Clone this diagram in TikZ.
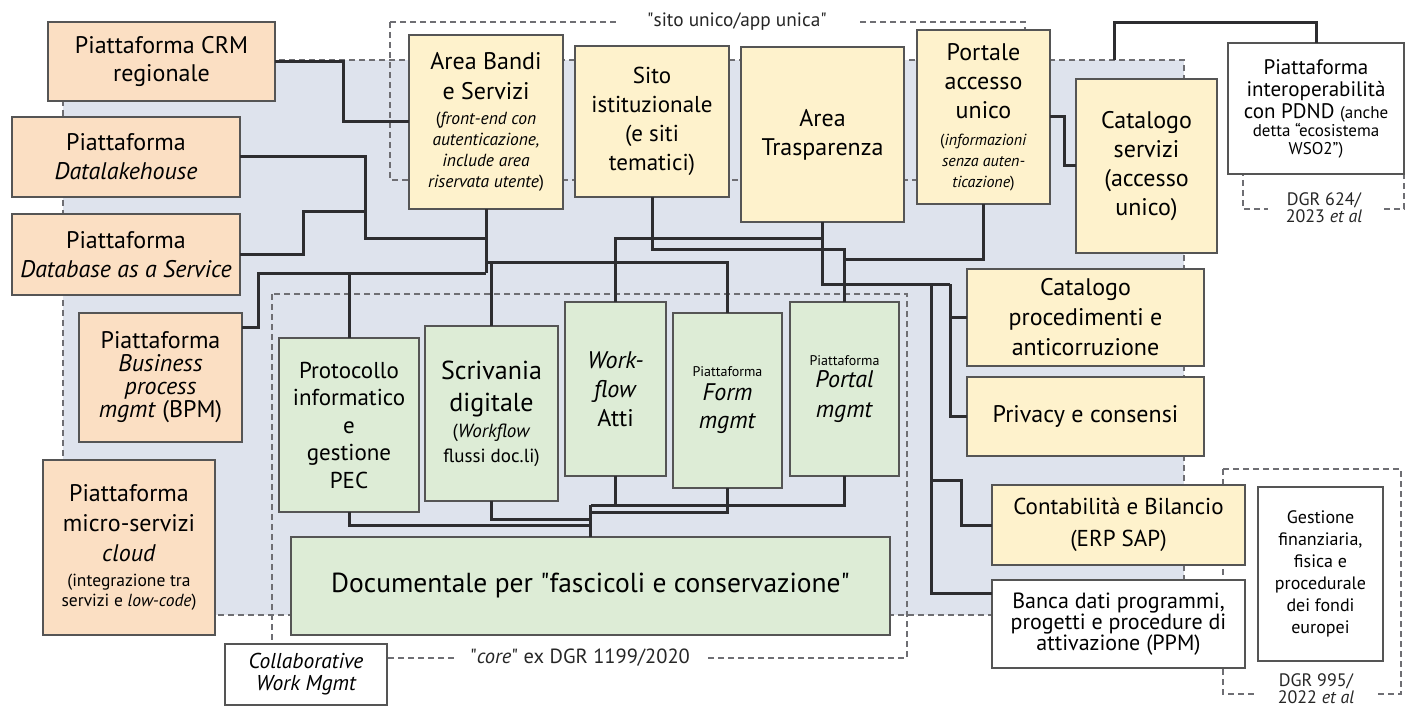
\documentclass[tikz,border=0pt]{standalone}
\usepackage{fontspec}
\setmainfont{PT Sans}
\usetikzlibrary{calc}
\definecolor{peachfill}{RGB}{251,223,195}
\definecolor{yelfill}{RGB}{254,242,204}
\definecolor{grnfill}{RGB}{221,236,214}
\definecolor{greybg}{RGB}{222,227,237}
\definecolor{boxline}{RGB}{85,85,85}
\definecolor{connc}{RGB}{45,45,48}
\definecolor{dashc}{RGB}{110,110,115}
\newcommand\Fmain{\fontsize{24}{29}\selectfont}
\newcommand\Fsmall{\fontsize{17.5}{21}\selectfont}
\newcommand\Fsmaller{\fontsize{16}{21}\selectfont}
\newcommand\Ftiny{\fontsize{14}{16}\selectfont}
\newcommand\mybox[7]{\node[#1, minimum width={(#5-#3)*1pt}, minimum height={(#6-#4)*1pt}] (#2) at ({(#3+#5)/2},{(#4+#6)/2}) {#7};}
\tikzset{
  box/.style={draw=boxline, line width=1.4pt, inner sep=0pt, outer sep=0pt, align=center, font=\Fmain},
  peach/.style={box, fill=peachfill},
  yel/.style={box, fill=yelfill},
  grn/.style={box, fill=grnfill},
  wht/.style={box, fill=white},
  conn/.style={draw=connc, line width=3pt},
  dashln/.style={draw=dashc, line width=1.4pt, dash pattern=on 6pt off 4pt},
  lab/.style={fill=white, inner ysep=1pt, align=center, text=black!85}
}
\begin{document}
\begin{tikzpicture}[x=1pt,y=-1pt]
\useasboundingbox (0,0) rectangle (1406,706);
% regions
\draw[dashln, fill=greybg] (63,60) rectangle (1184,615);
\draw[dashln] (390,22) rectangle (1025,180);
\draw[dashln] (272,294) rectangle (907,658);
\draw[dashln] (1243,100) rectangle (1404,209);
\draw[dashln] (1223,469) rectangle (1401,694);
% junctions
\coordinate (jB) at (486,273);
\coordinate (jB2) at (486,238);
\coordinate (jD) at (365,211);
\coordinate (jF) at (487,262);
\coordinate (jP) at (844.5,259);
\coordinate (bA) at (931,284);
\coordinate (bB) at (950,284);
\coordinate (ioTap) at (1114,60);
\coordinate (jDoc) at (590.5,505);
% boxes
\mybox{peach,font=\fontsize{24}{28}\selectfont}{crm}{48}{22}{275}{101}{Piattaforma CRM\\regionale}
\mybox{peach}{dlh}{12}{117}{240}{197}{Piattaforma\\\textit{Datalakehouse}}
\mybox{peach}{dbaas}{12}{214}{240}{295}{Piattaforma\\\textit{Database as a Service}}
\mybox{peach,font=\fontsize{24}{23}\selectfont}{bpm}{79}{313}{242}{442}{Piattaforma\\\textit{Business}\\\textit{process}\\\textit{mgmt} (BPM)}
\mybox{peach,font=\fontsize{24}{30}\selectfont}{micro}{43}{460}{215}{635}{Piattaforma\\micro-servizi\\\textit{cloud}\\[-5pt]{\Fsmall (integrazione tra}\\[-10pt]{\Fsmall servizi e \textit{low-code})}}
\mybox{yel,font=\fontsize{24}{30}\selectfont}{bandi}{409}{35}{563}{209}{Area Bandi\\e Servizi\\[-5pt]{\Fsmall(\textit{front-end con}}\\[-9pt]{\Fsmall\textit{autenticazione,}}\\[-9pt]{\Fsmall\textit{include area}}\\[-9pt]{\Fsmall\textit{riservata utente})}}
\mybox{yel,font=\fontsize{23}{29}\selectfont}{sito}{575}{46}{729}{197}{Sito\\istituzionale\\(e siti\\tematici)}
\mybox{yel}{trasp}{741}{47}{904}{222}{Area\\Trasparenza}
\mybox{yel}{portale}{917}{30}{1050}{204}{Portale\\accesso\\unico\\[-2pt]{\Fsmaller(\textit{informazioni}}\\[-8pt]{\Fsmaller\textit{senza auten-}}\\[-8pt]{\Fsmaller\textit{ticazione})}}
\mybox{yel}{catserv}{1076}{79}{1217}{253}{Catalogo\\servizi\\(accesso\\unico)}
\mybox{wht,font=\fontsize{21}{22}\selectfont}{interop}{1228}{43}{1404}{174}{Piattaforma\\interoperabilità\\con PDND {\fontsize{17}{20}\selectfont(anche}\\[-4pt]{\fontsize{17}{20}\selectfont detta “ecosistema}\\[-4pt]{\fontsize{17}{20}\selectfont WSO2”)}}
\mybox{yel,font=\fontsize{24}{30}\selectfont}{catproc}{967}{269}{1204}{366}{Catalogo\\procedimenti e\\anticorruzione}
\mybox{yel}{privacy}{967}{377}{1204}{456}{Privacy e consensi}
\mybox{yel,font=\fontsize{23}{32}\selectfont}{conta}{992}{485}{1245}{565}{Contabilità e Bilancio\\(ERP SAP)}
\mybox{wht,font=\fontsize{22}{21}\selectfont}{banca}{992}{580}{1245}{668}{Banca dati programmi,\\progetti e procedure di\\attivazione (PPM)}
\mybox{wht,font=\fontsize{18}{22}\selectfont}{gest}{1258}{487}{1383}{661}{Gestione\\finanziaria,\\fisica e\\procedurale\\dei fondi\\europei}
\mybox{grn,font=\fontsize{23}{27.5}\selectfont}{proto}{279}{338}{419}{512}{Protocollo\\informatico\\e\\gestione\\PEC}
\mybox{grn,font=\fontsize{26}{32}\selectfont}{scriv}{425}{326}{558}{501}{Scrivania\\digitale\\[-6pt]{\fontsize{19}{22}\selectfont(\textit{Workflow}}\\[-7pt]{\fontsize{19}{22}\selectfont flussi doc.li)}}
\mybox{grn,font=\fontsize{24}{29}\selectfont}{wf}{565}{302}{666}{476}{\textit{Work-}\\\textit{flow}\\Atti}
\mybox{grn,font=\fontsize{24}{28}\selectfont}{form}{673}{313}{782}{488}{{\Ftiny Piattaforma}\\[-4pt]\textit{Form}\\\textit{mgmt}}
\mybox{grn,font=\fontsize{24}{28}\selectfont}{portal}{790}{302}{899}{476}{{\Ftiny Piattaforma}\\[-6pt]\textit{Portal}\\[2pt]\textit{mgmt}}
\mybox{grn,font=\fontsize{27.5}{32}\selectfont}{doc}{291}{537}{890}{635}{Documentale per \textquotedbl fascicoli e conservazione\textquotedbl}
\mybox{wht,font=\fontsize{21.5}{22}\selectfont\itshape}{collab}{225}{644}{387}{705}{Collaborative\\Work Mgmt}
% connectors
\draw[conn] (crm.east) -| (343,122) -- (bandi.west);
\draw[conn] (bandi.south) -- (jB);
\draw[conn] (dlh.east) -| (365,238) -- (jB2);
\draw[conn] (dbaas.east) -| (303,211) -- (jD);
\draw[conn] ($(bpm.north east)+(0,14)$) -| (258,273) -- (jB);
\draw[conn] (proto.north) -- (proto.north |- jB);
\draw[conn] (form.north) |- (jF);
\draw[conn] (scriv.north) -- (scriv.north |- jF);
\draw[conn] (sito.south) |- (844.5,249) -- (portal.north);
\draw[conn] (portale.south) |- (jP);
\draw[conn] (trasp.south) |- (615.5,238) -- (wf.north);
\draw[conn] (trasp.south) |- (bB);
\draw[conn] (bA) |- ($(banca.north west)+(0,13)$);
\draw[conn] (bB) |- (privacy.west);
\draw[conn] (bB |- catproc.west) -- (catproc.west);
\draw[conn] (bA |- 0,480) -| (961,525) -- (conta.west);
\draw[conn] (portale.east) -| (1064,166) -- (catserv.west);
\draw[conn] (ioTap) -- (1114,23) -| (interop.north);
\draw[conn] (doc.north) -- (jDoc);
\draw[conn] (portal.south) |- (jDoc);
\draw[conn] (wf.south) -- (wf.south |- jDoc);
\draw[conn] (form.south) |- (590.5,512);
\draw[conn] (scriv.south) |- (590.5,519);
\draw[conn] (proto.south) |- (590.5,525);
% labels on dashed frames
\node[lab, inner xsep=31pt, font=\fontsize{19.3}{21}\selectfont] (siteLab) at (737,22) {\textquotedbl sito unico/app unica\textquotedbl};
\node[lab, inner xsep=16pt, font=\fontsize{20.5}{22}\selectfont] (coreLab) at (580,658) {\textquotedbl\textit{core}\textquotedbl\ ex DGR 1199/2020};
\node[lab, inner xsep=18pt, font=\fontsize{18}{17}\selectfont] (dgrA) at (1324,208) {DGR 624/\\2023 \textit{et al}};
\node[lab, inner xsep=22pt, font=\fontsize{18}{17}\selectfont] (dgrB) at (1316,689) {DGR 995/\\2022 \textit{et al}};
\end{tikzpicture}
\end{document}
